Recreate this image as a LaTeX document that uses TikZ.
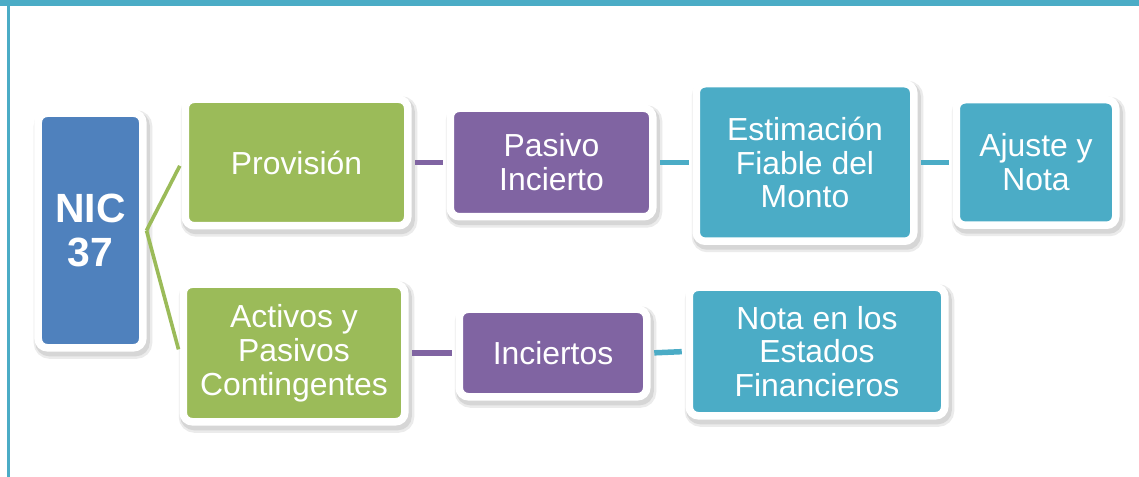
\documentclass[tikz,border=0pt]{standalone}
\usepackage{fontspec}
\setmainfont{Liberation Sans}
\definecolor{cblue}{HTML}{4F81BD}
\definecolor{cgreen}{HTML}{9BBB59}
\definecolor{cpurple}{HTML}{8064A2}
\definecolor{cteal}{HTML}{4BACC6}
\tikzset{
  box/.style={draw=white, line width=7.5bp, rounded corners=9bp, text=white,
    align=center, inner sep=0pt, font=\fontsize{32}{34}\selectfont,
    preaction={draw=black!8, line width=14bp, transform canvas={shift={(2.5bp,-4bp)}}},
    preaction={draw=black!16, line width=10bp, transform canvas={shift={(2bp,-3.5bp)}}}},
  conn/.style={line width=5.5bp, shorten <=3.75bp, shorten >=3.75bp},
  gconn/.style={line width=3.6bp, draw=cgreen, shorten >=3.75bp},
}
\begin{document}
\begin{tikzpicture}[x=1bp,y=-1bp]
\useasboundingbox (0,0) rectangle (1139,477);
\fill[white] (0,0) rectangle (1139,477);
\fill[cteal] (0,0) rectangle (1139,6);
\fill[cteal] (7,0) rectangle (10,477);
% boxes
\node[box, fill=cblue, minimum width=104.5bp, minimum height=234.5bp,
  font=\bfseries\fontsize{41}{43.5}\selectfont] (nic) at (90.5,230.5) {NIC\\37};
\node[box, fill=cgreen, minimum width=222.5bp, minimum height=126.5bp] (prov) at (296.5,162.5) {Provisión};
\node[box, fill=cgreen, minimum width=221.5bp, minimum height=137.5bp] (act) at (294,353) {Activos y\\Pasivos\\Contingentes};
\node[box, fill=cpurple, minimum width=202.5bp, minimum height=108.5bp] (pas) at (551.5,162.5) {Pasivo\\Incierto};
\node[box, fill=cteal, minimum width=217.5bp, minimum height=157.5bp] (est) at (805,162.5) {Estimación\\Fiable del\\Monto};
\node[box, fill=cteal, minimum width=159.5bp, minimum height=125.5bp] (aju) at (1036,162.5) {Ajuste y\\Nota};
\node[box, fill=cpurple, minimum width=187.5bp, minimum height=87.5bp] (inc) at (553,353) {Inciertos};
\node[box, fill=cteal, minimum width=255.5bp, minimum height=128.5bp] (nota) at (817,351.5) {Nota en los\\Estados\\Financieros};
% connectors
\draw[conn, cpurple] (prov.east) -- (pas.west);
\draw[conn, cteal] (pas.east) -- (est.west);
\draw[conn, cteal] (est.east) -- (aju.west);
\draw[conn, cpurple] (act.east) -- (inc.west);
\draw[conn, cteal] (inc.east) -- (nota.west);
\draw[gconn] (nic.east) -- (prov.west);
\draw[gconn] (nic.east) -- (act.west);
\end{tikzpicture}
\end{document}
